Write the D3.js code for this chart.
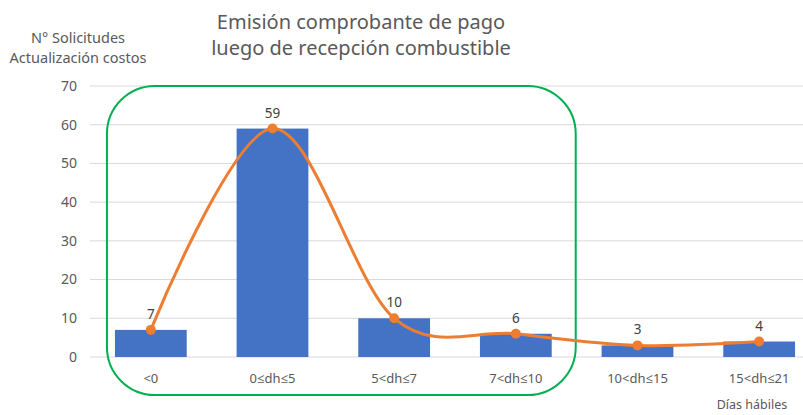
<!DOCTYPE html>
<html>
<head>
<meta charset="utf-8">
<script src="https://cdn.jsdelivr.net/npm/d3@7"></script>
<style>
  body { margin: 0; background: #fff; }
  svg { display: block; font-family: "Noto Sans", "Open Sans", sans-serif; }
</style>
</head>
<body>
<script>
'use strict';

let categories = ['<0', '0≤dh≤5', '5<dh≤7', '7<dh≤10', '10<dh≤15', '15<dh≤21'];
let values = [7, 59, 10, 6, 3, 4];
let yTicks = [0, 10, 20, 30, 40, 50, 60, 70];
let titleLines = ['Emisión comprobante de pago', 'luego de recepción combustible'];
let yTitleLines = ['N° Solicitudes', 'Actualización costos'];
let xTitle = 'Días hábiles';

let width = 803;
let height = 415;

let svgContainer = d3.select('body')
    .append('svg')
    .attr('width', width)
    .attr('height', height);

let xScale = d3.scaleBand()
    .domain(categories)
    .range([90, 820])
    .paddingInner(0.41)
    .paddingOuter(0.205);

let yScale = d3.scaleLinear()
    .domain([0, 70])
    .range([357, 86]);

// gridlines
svgContainer.append('g')
    .selectAll('line')
    .data(yTicks)
    .enter()
    .append('line')
    .attr('x1', 90)
    .attr('x2', width)
    .attr('y1', (d) => yScale(d))
    .attr('y2', (d) => yScale(d))
    .attr('stroke', '#d9d9d9')
    .attr('stroke-width', 1);

// y tick labels
svgContainer.append('g')
    .selectAll('text')
    .data(yTicks)
    .enter()
    .append('text')
    .attr('x', 77)
    .attr('y', (d) => yScale(d))
    .attr('dy', '0.35em')
    .attr('text-anchor', 'end')
    .style('font-size', '14px')
    .attr('fill', '#595959')
    .text((d) => d);

// bars
svgContainer.append('g')
    .selectAll('rect')
    .data(values)
    .enter()
    .append('rect')
    .attr('x', (d, i) => xScale(categories[i]))
    .attr('y', (d) => yScale(d))
    .attr('width', xScale.bandwidth())
    .attr('height', (d) => yScale(0) - yScale(d))
    .attr('fill', '#4472c4');

// category labels
svgContainer.append('g')
    .selectAll('text')
    .data(categories)
    .enter()
    .append('text')
    .attr('x', (d) => xScale(d) + xScale.bandwidth() / 2)
    .attr('y', 383)
    .attr('text-anchor', 'middle')
    .style('font-size', '13px')
    .attr('fill', '#595959')
    .text((d) => d);

// green highlight box around first four categories
let boxLeft = xScale(categories[0]) - 8;
let boxRight = xScale(categories[3]) + xScale.bandwidth() + 24;
svgContainer.append('rect')
    .attr('x', boxLeft)
    .attr('y', yScale(70))
    .attr('width', boxRight - boxLeft)
    .attr('height', yScale(0) + 38 - yScale(70))
    .attr('rx', 48)
    .attr('ry', 48)
    .attr('fill', 'none')
    .attr('stroke', '#00b050')
    .attr('stroke-width', 2);

// smoothed line
let pts = values.map((d, i) => [xScale(categories[i]) + xScale.bandwidth() / 2, yScale(d)]);
let line = d3.line().curve(d3.curveCatmullRom.alpha(0));
svgContainer.append('path')
    .attr('d', line(pts))
    .attr('fill', 'none')
    .attr('stroke', '#ed7d31')
    .attr('stroke-width', 3)
    .attr('stroke-linecap', 'round');

svgContainer.append('g')
    .selectAll('circle')
    .data(pts)
    .enter()
    .append('circle')
    .attr('cx', (d) => d[0])
    .attr('cy', (d) => d[1])
    .attr('r', 5)
    .attr('fill', '#ed7d31');

// value labels
svgContainer.append('g')
    .selectAll('text')
    .data(values)
    .enter()
    .append('text')
    .attr('x', (d, i) => pts[i][0])
    .attr('y', (d, i) => pts[i][1] - 11)
    .attr('text-anchor', 'middle')
    .style('font-size', '13.5px')
    .attr('fill', '#404040')
    .text((d) => d);

// title
svgContainer.append('text')
    .attr('x', 361)
    .attr('y', 29)
    .attr('text-anchor', 'middle')
    .style('font-size', '20px')
    .attr('fill', '#595959')
    .selectAll('tspan')
    .data(titleLines)
    .enter()
    .append('tspan')
    .attr('x', 361)
    .attr('dy', (d, i) => i === 0 ? 0 : 26)
    .text((d) => d);

// y axis title
svgContainer.append('text')
    .attr('x', 78)
    .attr('y', 43)
    .attr('text-anchor', 'middle')
    .style('font-size', '14.5px')
    .attr('fill', '#595959')
    .selectAll('tspan')
    .data(yTitleLines)
    .enter()
    .append('tspan')
    .attr('x', 78)
    .attr('dy', (d, i) => i === 0 ? 0 : 20)
    .text((d) => d);

// x axis title
svgContainer.append('text')
    .attr('x', 752)
    .attr('y', 409)
    .attr('text-anchor', 'middle')
    .style('font-size', '12.5px')
    .attr('fill', '#595959')
    .text(xTitle);
</script>
</body>
</html>
